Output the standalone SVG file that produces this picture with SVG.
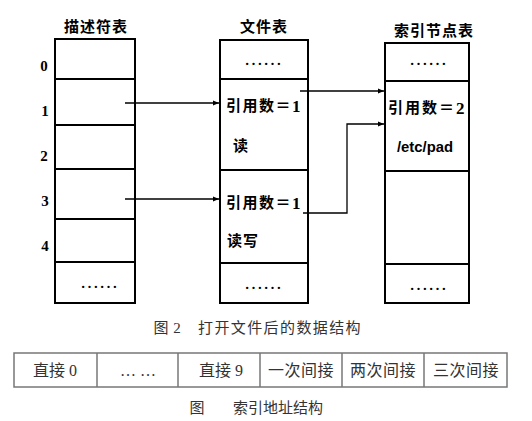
<svg xmlns="http://www.w3.org/2000/svg" width="532" height="421" viewBox="0 0 532 421">
<style>
.tbl{fill:#fff;stroke:#000;stroke-width:2}
.div{stroke:#000;stroke-width:2}
.title{font-family:"Noto Sans CJK SC",sans-serif;font-weight:bold;font-size:15px;text-anchor:middle;dominant-baseline:central;letter-spacing:1px}
.num{font-family:"Liberation Serif",serif;font-weight:bold;font-size:15px;text-anchor:middle;dominant-baseline:central}
.cell{font-family:"Liberation Serif","Noto Sans CJK SC",serif;font-weight:bold;font-size:15px;dominant-baseline:central}
.big{font-size:17px}
.dots{font-family:"Liberation Serif",serif;font-size:19px;text-anchor:middle}
.conn{fill:none;stroke:#000;stroke-width:1.3}
.cap{font-family:"Liberation Serif","Noto Sans CJK SC",serif;font-size:15px;fill:#333;text-anchor:middle;dominant-baseline:central}
.bcell{font-family:"Liberation Serif","Noto Sans CJK SC",serif;font-size:16px;fill:#333;text-anchor:middle;dominant-baseline:central}
.btbl{fill:#fff;stroke:#777;stroke-width:1.5}
.bdiv{stroke:#777;stroke-width:1.5}
</style>
<defs>
<marker id="ah" viewBox="0 0 10 10" refX="10" refY="5" markerWidth="7" markerHeight="6" markerUnits="userSpaceOnUse" orient="auto">
<path d="M0,1 L10,5 L0,9 z" fill="#000"/>
</marker>
</defs>
<rect width="532" height="421" fill="#fff"/>

<g id="descriptor-table">
<text class="title" x="96" y="25">描述符表</text>
<rect class="tbl" x="55" y="39" width="80" height="264"/>
<line class="div" x1="55" y1="79" x2="135" y2="79"/>
<line class="div" x1="55" y1="125" x2="135" y2="125"/>
<line class="div" x1="55" y1="169" x2="135" y2="169"/>
<line class="div" x1="55" y1="219" x2="135" y2="219"/>
<line class="div" x1="55" y1="262" x2="135" y2="262"/>
<text class="num" x="44" y="66">0</text>
<text class="num" x="45" y="111">1</text>
<text class="num" x="44" y="156">2</text>
<text class="num" x="45" y="201">3</text>
<text class="num" x="45" y="246">4</text>
<text class="dots" x="99" y="288">……</text>
</g>

<g id="file-table">
<text class="title" x="264" y="25">文件表</text>
<rect class="tbl" x="220" y="40" width="88" height="263"/>
<line class="div" x1="220" y1="79" x2="308" y2="79"/>
<line class="div" x1="220" y1="170" x2="308" y2="170"/>
<line class="div" x1="220" y1="263" x2="308" y2="263"/>
<text class="dots" x="263" y="65">……</text>
<text class="cell" x="226" y="106" letter-spacing="1.5">引用数＝<tspan class="big">1</tspan></text>
<text class="cell" x="233" y="146">读</text>
<text class="cell" x="226" y="203" letter-spacing="1.5">引用数＝<tspan class="big">1</tspan></text>
<text class="cell" x="227" y="241" letter-spacing="1">读写</text>
<text class="dots" x="263" y="289">……</text>
</g>

<g id="inode-table">
<text class="title" x="434" y="29">索引节点表</text>
<rect class="tbl" x="385" y="43" width="84" height="260"/>
<line class="div" x1="385" y1="81" x2="469" y2="81"/>
<line class="div" x1="385" y1="171" x2="469" y2="171"/>
<line class="div" x1="385" y1="264" x2="469" y2="264"/>
<text class="dots" x="428" y="65">……</text>
<text class="cell" x="388" y="108" letter-spacing="2">引用数＝<tspan class="big">2</tspan></text>
<text x="397" y="147" font-family="Liberation Sans,sans-serif" font-weight="bold" font-size="14" dominant-baseline="central" textLength="56" lengthAdjust="spacingAndGlyphs">/etc/pad</text>
<text class="dots" x="428" y="290">……</text>
</g>

<g id="connectors">
<line class="conn" x1="125" y1="103" x2="219" y2="103" marker-end="url(#ah)"/>
<line class="conn" x1="125" y1="199" x2="219" y2="199" marker-end="url(#ah)"/>
<line class="conn" x1="300" y1="91" x2="384" y2="91" marker-end="url(#ah)"/>
<polyline class="conn" points="303,213 347,213 347,124 384,124" marker-end="url(#ah)"/>
</g>

<g id="caption1">
<text class="cap" x="161" y="328">图</text>
<text class="cap" x="177" y="328">2</text>
<text class="cap" x="280" y="328" letter-spacing="1.4">打开文件后的数据结构</text>
</g>

<g id="index-address-table">
<rect class="btbl" x="14" y="353" width="493" height="34"/>
<line class="bdiv" x1="97" y1="353" x2="97" y2="387"/>
<line class="bdiv" x1="178" y1="353" x2="178" y2="387"/>
<line class="bdiv" x1="260" y1="353" x2="260" y2="387"/>
<line class="bdiv" x1="342" y1="353" x2="342" y2="387"/>
<line class="bdiv" x1="424" y1="353" x2="424" y2="387"/>
<text class="bcell" x="55" y="370">直接 0</text>
<text class="bcell" x="138" y="370">… …</text>
<text class="bcell" x="221" y="370">直接 9</text>
<text class="bcell" x="301" y="370" letter-spacing="0.5">一次间接</text>
<text class="bcell" x="383" y="370" letter-spacing="0.5">两次间接</text>
<text class="bcell" x="466" y="370" letter-spacing="0.5">三次间接</text>
</g>

<g id="caption2">
<text class="cap" x="197" y="408">图</text>
<text class="cap" x="278" y="408">索引地址结构</text>
</g>
</svg>
